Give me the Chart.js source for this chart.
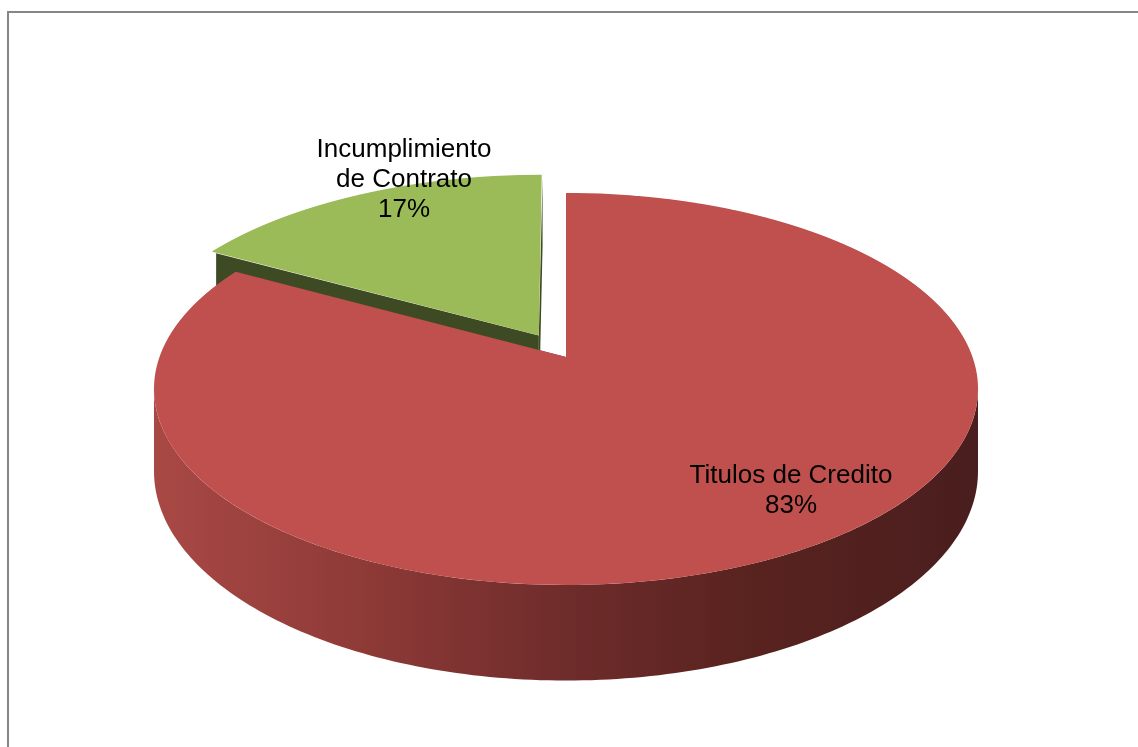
<!DOCTYPE html>
<html>
<head>
<meta charset="utf-8">
<script src="https://cdn.jsdelivr.net/npm/chart.js@4.4.1/dist/chart.umd.min.js"></script>
<style>
  html, body { margin: 0; padding: 0; background: #fff; }
</style>
</head>
<body>
<canvas id="chart" width="1138" height="747"></canvas>
<script>
// datos
const categorias = [["Titulos de Credito"], ["Incumplimiento", "de Contrato"]];
const porcentajes = [83, 17];

// marco gris del area del grafico
const marco = {
  id: 'marco',
  beforeDraw(chart, args, o) {
    const ctx = chart.ctx;
    ctx.save();
    ctx.fillStyle = '#ffffff';
    ctx.fillRect(0, 0, chart.width, chart.height);
    ctx.strokeStyle = o.color;
    ctx.lineWidth = o.width;
    ctx.strokeRect(o.x, o.y, chart.width + 100, chart.height + 100);
    ctx.restore();
  }
};

// torta 3D: proyeccion en perspectiva de los arcos de Chart.js
const torta3d = {
  id: 'torta3d',
  beforeDatasetDraw(chart, args, o) {
    const ctx = chart.ctx;
    const arcs = args.meta.data;
    if (!arcs.length) return;
    const R = arcs[0].outerRadius;
    const ax = arcs[0].x, ay = arcs[0].y;

    const proy = (u, v) => {
      const w = 1 - o.tilt * v;
      return { x: o.cx + o.rx * u / w, y: o.cy + o.ry * v / w, w: w };
    };
    const despl = a => {
      const off = (a.options.offset || 0) / 4;
      const m = (a.startAngle + a.endAngle) / 2;
      return [Math.cos(m) * off / R, Math.sin(m) * off / R];
    };

    ctx.save();

    // caras de corte
    arcs.forEach((a, i) => {
      const [du, dv] = despl(a);
      [a.startAngle, a.endAngle].forEach(t => {
        const c = proy(du, dv);
        const e = proy(du + Math.cos(t), dv + Math.sin(t));
        ctx.beginPath();
        ctx.moveTo(c.x, c.y);
        ctx.lineTo(e.x, e.y);
        ctx.lineTo(e.x, e.y + o.depth / e.w);
        ctx.lineTo(c.x, c.y + o.depth / c.w);
        ctx.closePath();
        ctx.fillStyle = o.cutColors[i];
        ctx.fill();
      });
    });

    // canto frontal
    const lo = Math.asin(o.tilt), hi = Math.PI - lo;
    arcs.forEach((a, i) => {
      const [du, dv] = despl(a);
      const grad = ctx.createLinearGradient(o.cx - o.rx, 0, o.cx + o.rx, 0);
      o.rimStops[i].forEach(s => grad.addColorStop(s[0], s[1]));
      for (let k = -1; k <= 1; k++) {
        const t0 = Math.max(a.startAngle + k * 2 * Math.PI, lo);
        const t1 = Math.min(a.endAngle + k * 2 * Math.PI, hi);
        if (t1 <= t0) continue;
        const n = 160, sup = [];
        for (let j = 0; j <= n; j++) {
          const t = t0 + (t1 - t0) * j / n;
          sup.push(proy(du + Math.cos(t), dv + Math.sin(t)));
        }
        ctx.beginPath();
        sup.forEach((p, j) => j ? ctx.lineTo(p.x, p.y) : ctx.moveTo(p.x, p.y));
        for (let j = n; j >= 0; j--) ctx.lineTo(sup[j].x, sup[j].y + o.depth / sup[j].w);
        ctx.closePath();
        ctx.fillStyle = grad;
        ctx.fill();
      }
    });

    // cara superior, fila por fila
    const W = chart.width;
    const top = Math.floor(o.cy - o.ry / (1 + o.tilt)) - 40;
    const bottom = Math.ceil(o.cy + o.ry / (1 - o.tilt)) + 2;
    for (let row = top; row < bottom; row++) {
      const dy = row + 0.5 - o.cy;
      const v = dy / (o.ry + o.tilt * dy);
      const w = 1 - o.tilt * v;
      const sx = o.rx / (R * w);
      const sy = o.ry / (R * w * w);
      ctx.save();
      ctx.beginPath();
      ctx.rect(0, row, W, 1);
      ctx.clip();
      ctx.setTransform(sx, 0, 0, sy, o.cx - sx * ax, row + 0.5 - sy * (ay + R * v));
      arcs.forEach(a => a.draw(ctx));
      ctx.restore();
    }

    ctx.restore();
    return false;
  }
};

// rotulos de datos
const rotulos = {
  id: 'rotulos',
  afterDatasetsDraw(chart, args, o) {
    const ctx = chart.ctx;
    const ds = chart.data.datasets[0];
    const total = ds.data.reduce((s, v) => s + v, 0);
    ctx.save();
    ctx.font = o.font;
    ctx.fillStyle = o.color;
    ctx.textAlign = 'center';
    ctx.textBaseline = 'alphabetic';
    chart.data.labels.forEach((lab, i) => {
      const lines = [...lab, Math.round(ds.data[i] / total * 100) + '%'];
      const [x, y] = o.pos[i];
      lines.forEach((t, j) => ctx.fillText(t, x, y + j * o.lineHeight));
    });
    ctx.restore();
  }
};

new Chart(document.getElementById('chart'), {
  type: 'pie',
  data: {
    labels: categorias,
    datasets: [{
      data: porcentajes,
      backgroundColor: ['#c0504d', '#9bbb59'],
      borderWidth: 0,
      offset: [0, 214],
      radius: 400,
      clip: false
    }]
  },
  options: {
    responsive: false,
    animation: false,
    events: [],
    plugins: {
      legend: { display: false },
      tooltip: { enabled: false },
      marco: { color: '#868686', width: 2, x: 8, y: 12 },
      torta3d: {
        cx: 566, cy: 357, rx: 406.5, ry: 190.8, tilt: 0.163, depth: 80,
        cutColors: ['#7a2d2b', '#3e4a23'],
        rimStops: [
          [[0, '#a84845'], [0.25, '#8e3a37'], [0.5, '#6e2c2b'], [0.72, '#59231f'], [1, '#4a1e1e']],
          [[0, '#7a9245'], [1, '#4a5a2a']]
        ]
      },
      rotulos: {
        font: '26px "Liberation Sans", Arial, sans-serif',
        color: '#000000',
        lineHeight: 30,
        pos: [[791, 483], [404, 157]]
      }
    }
  },
  plugins: [marco, torta3d, rotulos]
});
</script>
</body>
</html>
